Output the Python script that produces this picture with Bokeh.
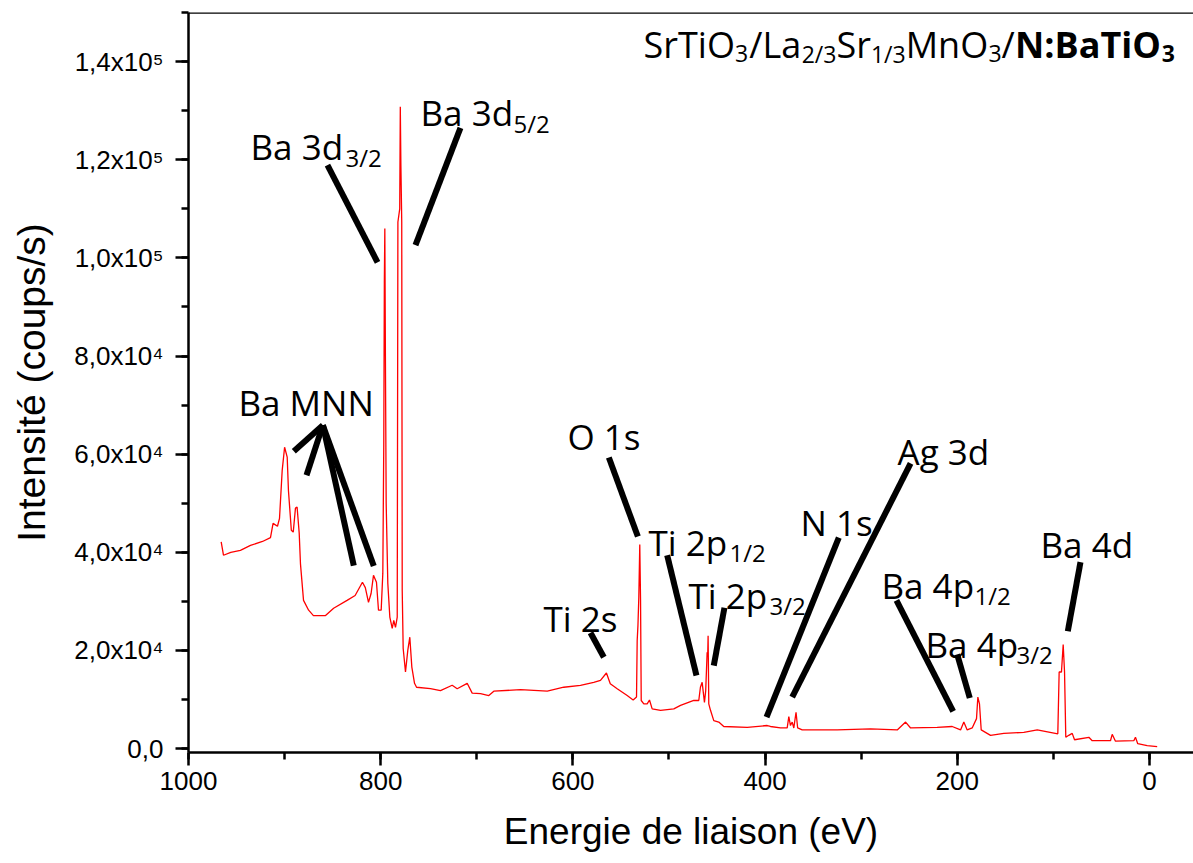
from bokeh.plotting import figure
from bokeh.models import Range1d, SingleIntervalTicker, Label, Span
from bokeh.embed import file_html
from bokeh.resources import INLINE

# ---- spectrum (binding energy eV, counts/s) ----
energy = [966, 963.6, 956, 946, 935.5, 923, 914.7, 912, 907.4, 905.3, 902.5, 900, 897.3, 896,
          893, 891, 888.7, 887, 884.8, 883.5, 880.3, 875, 870, 857.4, 849, 835, 826.6, 819, 816,
          812.7, 810, 807.5, 804.4, 802.3, 799.5, 797.8, 796.8, 796.2, 795.7, 795.1, 794.3,
          792.6, 790.5, 788, 786.4, 784.6, 782.8, 782.1, 780.2, 779.6, 779.0, 778.1, 777.6,
          776.6, 774.2, 771.8, 769.7, 767.6, 764.8, 762.7, 748.2, 737.8, 725.6, 720.4, 710,
          704.8, 696.1, 687.5, 682.3, 654.5, 626.7, 609.5, 592.1, 578.3, 571.3, 565.1, 561.1,
          553.9, 543.5, 537.3, 533.8, 533.1, 532.3, 531.4, 530.4, 529.6, 528.9, 526.2, 522.7,
          520.3, 517.5, 508.8, 495, 488, 474.2, 469, 467.3, 465.5, 463.1, 461.8, 460.3, 459.7,
          459.3, 458.6, 456.8, 453.4, 448.2, 443, 418.6, 397.8, 394.4, 384, 377, 375.3, 373.6,
          371.8, 370.1, 367.8, 366.1, 361.4, 325, 290.3, 262.5, 253.8, 248.6, 220.9, 205.3,
          196.6, 193.2, 189.7, 184.5, 180, 178.6, 176.9, 175.1, 165.4, 151.6, 130.8, 116.8,
          95.4, 94, 91.6, 89.8, 88.4, 87.1, 84, 80.4, 78, 63.1, 59.6, 40.6, 38.8, 35.4, 16.3,
          14.6, 12.2, 2.4, -8]
counts = [42100, 39400, 40000, 40400, 41400, 42200, 43000, 45900, 45300, 46900, 56700, 61400,
          59400, 52600, 44500, 44100, 49000, 49200, 43900, 37700, 30200, 28200, 27100, 27100,
          28600, 30200, 31200, 33900, 32800, 29800, 31600, 35300, 33900, 28200, 28200, 35700,
          62000, 95000, 106000, 80000, 50000, 33700, 26800, 24500, 26100, 24700, 26800, 107300,
          110000, 130800, 119000, 107300, 32200, 20400, 15600, 20000, 22700, 16600, 13300,
          12500, 12200, 11800, 12900, 12200, 13300, 11300, 11200, 10800, 11700, 12000, 11700,
          12500, 12900, 13500, 13900, 15400, 13200, 12200, 10800, 9900, 10500, 22000, 25100,
          30900, 41600, 30200, 9800, 9100, 9100, 9900, 8100, 7800, 8100, 8800, 9800, 9800,
          12500, 13500, 9400, 11800, 19600, 19000, 23000, 9100, 7800, 5700, 5400, 4500, 4300,
          4700, 4500, 4200, 4200, 6500, 4700, 5400, 4200, 7400, 4200, 3800, 3800, 4000, 3800,
          5400, 4200, 4300, 4500, 3800, 5400, 3800, 4200, 6100, 10500, 9100, 3800, 2700, 3100,
          3300, 3800, 3000, 15600, 15600, 21200, 15600, 2300, 2700, 3100, 1800, 2300, 1600,
          1600, 2900, 1500, 1600, 2300, 1000, 600, 400]

y_tick_values = [0, 20000, 40000, 60000, 80000, 100000, 120000, 140000]
y_tick_labels = ["0,0", "2,0x10\u2074", "4,0x10\u2074", "6,0x10\u2074", "8,0x10\u2074",
                 "1,0x10\u2075", "1,2x10\u2075", "1,4x10\u2075"]

# ---- peak annotations (data units) ----
peak_texts = ["Ba 3d", "Ba 3d", "Ba MNN", "O 1s", "Ti 2p", "Ti 2p", "Ti 2s", "N 1s", "Ag 3d",
              "Ba 4p", "Ba 4p", "Ba 4d"]
peak_subs = ["3/2", "5/2", "", "", "1/2", "3/2", "", "", "", "1/2", "3/2", ""]
peak_x = [935.5, 758.6, 948, 605.6, 521.3, 479.7, 630.6, 363.2, 262.2, 278.9, 233.1, 113.4]
peak_y = [122600, 129700, 70600, 63600, 42000, 31200, 26500, 46100, 60600, 33300, 21200, 41600]
peak_sub_x = [836.6, 661.8, None, None, 437.0, 395.4, None, None, None, 182.1, 138.4, None]
peak_sub_y = [120400, 127300, None, None, 40000, 29200, None, None, None, 31200, 19200, None]

# leader lines (data units)
lead_x0 = [855.4, 717.0, 860.2, 860.2, 860.2, 860.2, 562.6, 581.7, 501.9, 442.3, 323.3, 248.6, 263.3, 200.1, 71.8]
lead_y0 = [118900, 126500, 65900, 65900, 65900, 65900, 59300, 23600, 39400, 28700, 43000, 58100, 30200, 19200, 38000]
lead_x1 = [803.3, 763.8, 890.4, 877.2, 828.0, 807.2, 532.4, 567.8, 471.4, 453.4, 398.5, 371.8, 204.3, 187.0, 85.0]
lead_y1 = [99100, 102600, 60600, 55700, 37300, 37200, 43200, 18600, 14900, 16900, 6400, 10500, 7600, 10300, 23900]

# sample title pieces
title_parts = ["SrTiO", "3", "/La", "2/3", "Sr", "1/3", "MnO", "3", "/", "N:BaTiO", "3"]
title_x = [526.5, 431.2, 416.4, 361.9, 325.7, 289.9, 253.7, 167.6, 153.9, 139.9, -12.7]
title_is_sub = [False, True, False, True, False, True, False, True, False, False, True]
title_bold = [False, False, False, False, False, False, False, False, False, True, True]
title_base = 143400
title_sub_base = 141600

p = figure(frame_width=1005, frame_height=740,
           x_range=Range1d(1000, -45.8), y_range=Range1d(-800, 150000),
           output_backend="svg", toolbar_location=None,
           min_border_left=188, min_border_right=0, min_border_top=12, min_border_bottom=108)
p.xgrid.grid_line_color = None
p.ygrid.grid_line_color = None
p.outline_line_color = None
p.background_fill_color = "white"
p.border_fill_color = "white"

p.line(energy, counts, line_color="#ff0000", line_width=1.3)

p.segment(x0=lead_x0, y0=lead_y0, x1=lead_x1, y1=lead_y1, line_color="black",
          line_width=6, line_cap="butt")

TF = "Open Sans"
for t, s, x, y, xs, ys in zip(peak_texts, peak_subs, peak_x, peak_y, peak_sub_x, peak_sub_y):
    p.add_layout(Label(x=x, y=y, text=t, text_font=TF, text_font_size="35px",
                       text_color="black", text_baseline="alphabetic", text_align="left"))
    if s:
        p.add_layout(Label(x=xs, y=ys, text=s, text_font=TF, text_font_size="24px",
                           text_color="black", text_baseline="alphabetic", text_align="left"))

for t, x, sub, bold in zip(title_parts, title_x, title_is_sub, title_bold):
    p.add_layout(Label(x=x, y=title_sub_base if sub else title_base, text=t, text_font=TF,
                       text_font_size="23px" if sub else "36px",
                       text_font_style="bold" if bold else "normal",
                       text_color="black", text_baseline="alphabetic", text_align="left"))

# top border line
p.add_layout(Span(location=150000, dimension="width", line_color="black", line_width=2.5))

AF = "Liberation Sans"
xa = p.xaxis[0]
xa.ticker = SingleIntervalTicker(interval=200, num_minor_ticks=2)
xa.axis_label = "Energie de liaison (eV)"
ya = p.yaxis[0]
ya.ticker = SingleIntervalTicker(interval=20000, num_minor_ticks=2)
ya.axis_label = "Intensité (coups/s)"
ya.major_label_overrides = dict(zip(y_tick_values, y_tick_labels))
for ax in (xa, ya):
    ax.axis_line_width = 2.5
    ax.axis_line_color = "black"
    ax.major_tick_line_width = 2.5
    ax.minor_tick_line_width = 2.5
    ax.major_tick_line_color = "black"
    ax.minor_tick_line_color = "black"
    ax.major_tick_in = 0
    ax.major_tick_out = 13
    ax.minor_tick_in = 0
    ax.minor_tick_out = 7
    ax.major_label_text_font = AF
    ax.major_label_text_font_size = "26px"
    ax.major_label_text_color = "black"
    ax.axis_label_text_font = AF
    ax.axis_label_text_font_style = "normal"
    ax.axis_label_text_color = "black"
xa.axis_label_text_font_size = "37px"
ya.axis_label_text_font_size = "39px"
xa.major_label_standoff = 6
xa.axis_label_standoff = 18
ya.major_label_standoff = 12
ya.axis_label_standoff = 18

open("out.html", "w").write(file_html(p, INLINE))
